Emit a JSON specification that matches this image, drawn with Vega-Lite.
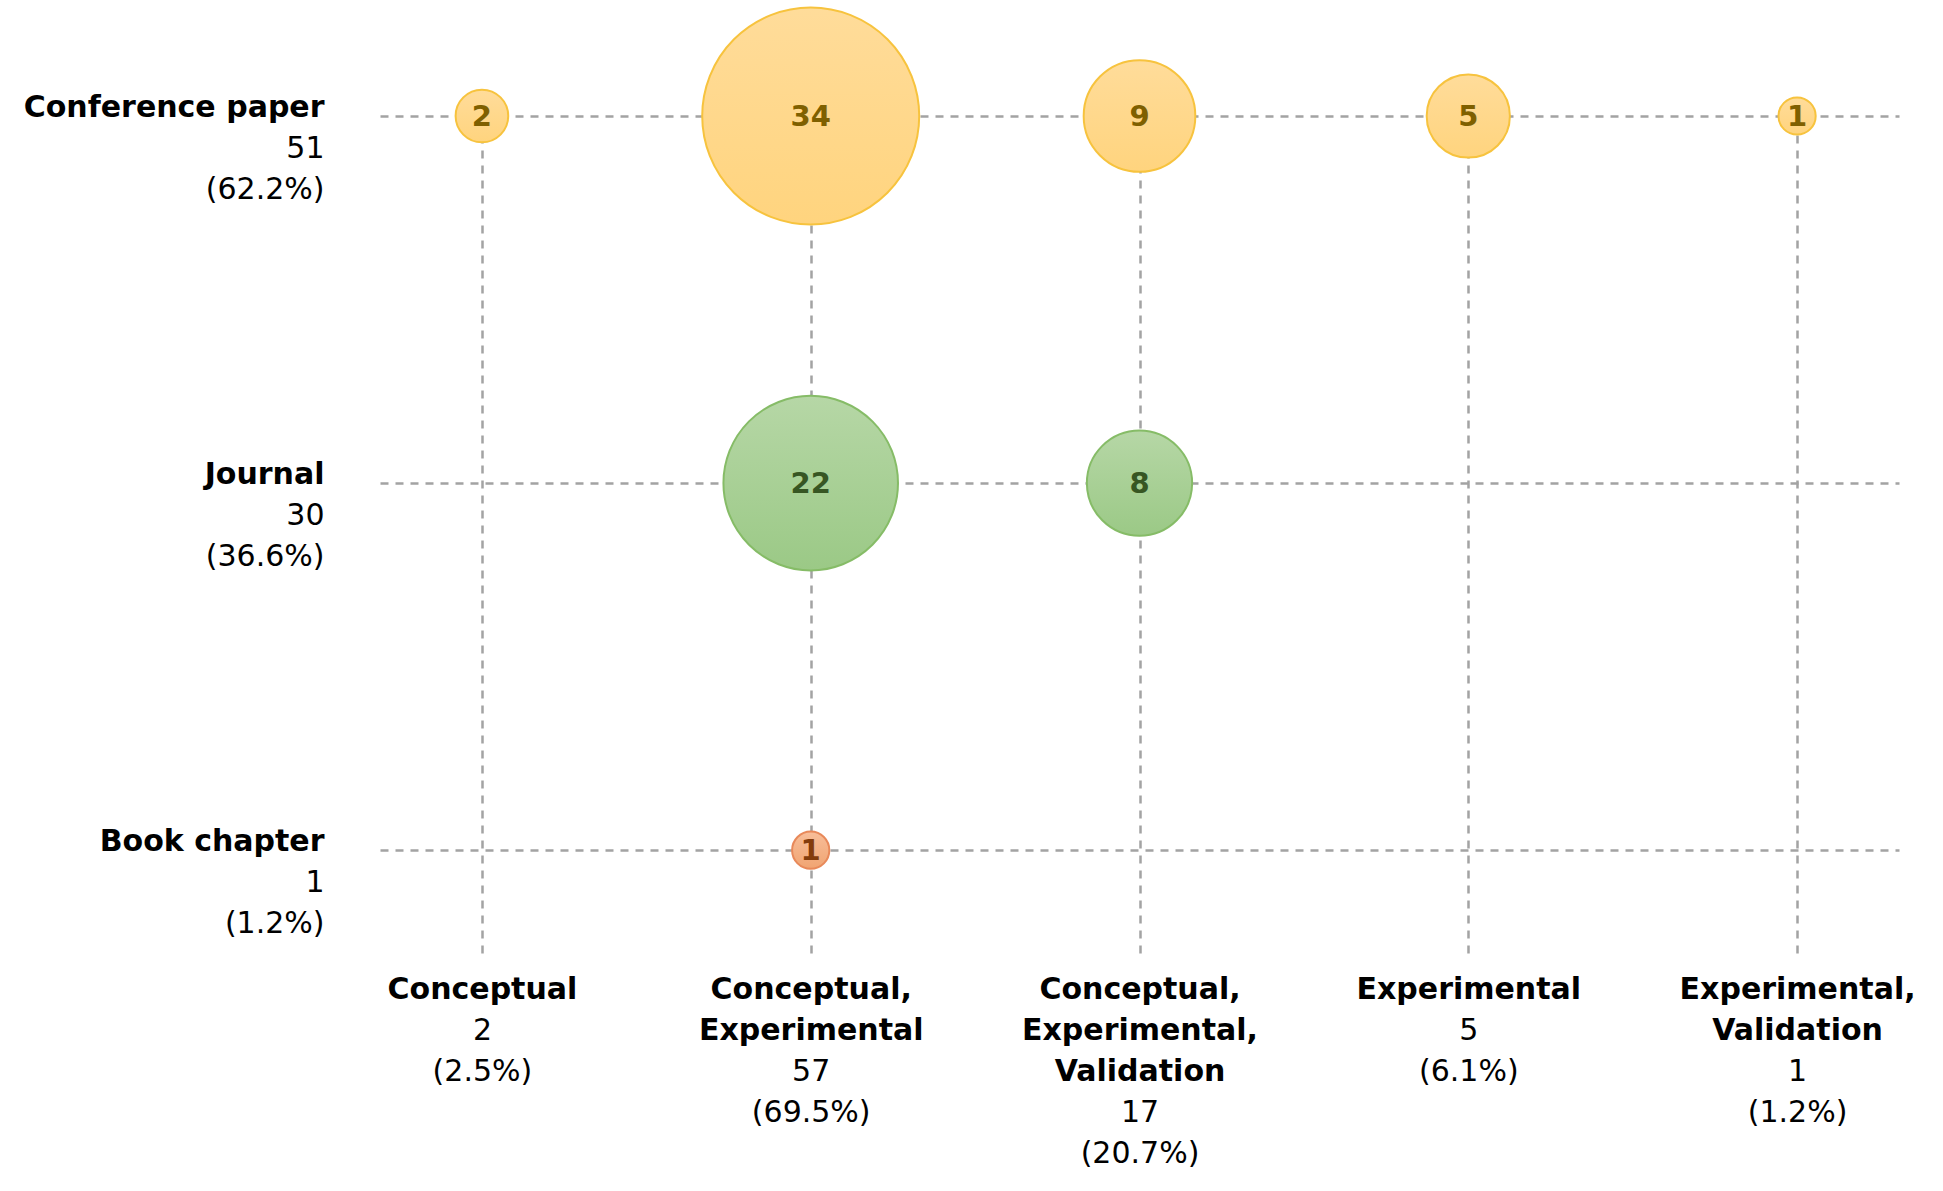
{
  "$schema": "https://vega.github.io/schema/vega-lite/v6.json",
  "autosize": "none",
  "padding": {"left": 380, "top": 116, "right": 44, "bottom": 238},
  "width": 1519,
  "height": 837,
  "background": "white",
  "config": {
    "view": {"stroke": null},
    "font": "DejaVu Sans",
    "axis": {"domain": false, "ticks": false, "labelColor": "black", "labelFont": "DejaVu Sans", "labelFontSize": 30, "labelLineHeight": 41, "labelLimit": 0, "title": null}
  },
  "data": {"values": [
    {"pub": "Conference paper", "method": "Conceptual", "n": 2},
    {"pub": "Conference paper", "method": "Conceptual, Experimental", "n": 34},
    {"pub": "Conference paper", "method": "Conceptual, Experimental, Validation", "n": 9},
    {"pub": "Conference paper", "method": "Experimental", "n": 5},
    {"pub": "Conference paper", "method": "Experimental, Validation", "n": 1},
    {"pub": "Journal", "method": "Conceptual, Experimental", "n": 22},
    {"pub": "Journal", "method": "Conceptual, Experimental, Validation", "n": 8},
    {"pub": "Book chapter", "method": "Conceptual, Experimental", "n": 1}
  ]},
  "encoding": {
    "x": {"field": "method", "type": "nominal", "sort": null,
      "scale": {"type": "point", "padding": 0.31, "domain": ["Conceptual", "Conceptual, Experimental", "Conceptual, Experimental, Validation", "Experimental", "Experimental, Validation"]}},
    "y": {"field": "pub", "type": "nominal", "sort": null,
      "scale": {"type": "point", "padding": 0.14, "align": 0, "domain": ["Conference paper", "Journal", "Book chapter"]}}
  },
  "resolve": {"axis": {"x": "independent", "y": "independent"}},
  "layer": [
    {
      "transform": [{"filter": "datum.pub === 'Conference paper'"}],
      "mark": {"type": "circle", "opacity": 1, "strokeWidth": 2, "stroke": "#F7C33E",
        "fill": {"gradient": "linear", "x1": 0, "y1": 0, "x2": 0, "y2": 1, "stops": [{"offset": 0, "color": "#FFDC9A"}, {"offset": 1, "color": "#FFD47E"}]}},
      "encoding": {
        "x": {"field": "method", "type": "nominal", "sort": null,
          "axis": {"orient": "bottom", "grid": true, "gridColor": "#A3A3A3", "gridDash": [8, 7], "gridWidth": 2.5, "labelAngle": 0, "labelFontWeight": "bold", "labelBaseline": "alphabetic", "labelPadding": 45,
            "labelExpr": "{'Conceptual':['Conceptual'],'Conceptual, Experimental':['Conceptual,','Experimental'],'Conceptual, Experimental, Validation':['Conceptual,','Experimental,','Validation'],'Experimental':['Experimental'],'Experimental, Validation':['Experimental,','Validation']}[datum.value]"}},
        "y": {"field": "pub", "type": "nominal", "sort": null,
          "axis": {"orient": "left", "grid": true, "gridColor": "#A3A3A3", "gridDash": [8, 7], "gridWidth": 2.5, "labelFontWeight": "bold", "labelBaseline": "alphabetic", "labelPadding": 56}},
        "size": {"field": "n", "type": "quantitative", "scale": {"type": "linear", "domain": [0, 34], "range": [0, 47089]}, "legend": null}
      }
    },
    {
      "transform": [{"filter": "datum.pub === 'Journal'"}],
      "mark": {"type": "circle", "opacity": 1, "strokeWidth": 2, "stroke": "#86BC67",
        "fill": {"gradient": "linear", "x1": 0, "y1": 0, "x2": 0, "y2": 1, "stops": [{"offset": 0, "color": "#B6D7A6"}, {"offset": 1, "color": "#9BC986"}]}},
      "encoding": {
        "x": {"field": "method", "type": "nominal", "sort": null, "axis": null},
        "y": {"field": "pub", "type": "nominal", "sort": null, "axis": null},
        "size": {"field": "n", "type": "quantitative", "legend": null}
      }
    },
    {
      "transform": [{"filter": "datum.pub === 'Book chapter'"}],
      "mark": {"type": "circle", "opacity": 1, "strokeWidth": 2, "stroke": "#E8895A",
        "fill": {"gradient": "linear", "x1": 0, "y1": 0, "x2": 0, "y2": 1, "stops": [{"offset": 0, "color": "#F8BE99"}, {"offset": 1, "color": "#F0A472"}]}},
      "encoding": {
        "x": {"field": "method", "type": "nominal", "sort": null, "axis": null},
        "y": {"field": "pub", "type": "nominal", "sort": null, "axis": null},
        "size": {"field": "n", "type": "quantitative", "legend": null}
      }
    },
    {
      "mark": {"type": "text", "fontWeight": "bold", "fontSize": 29, "baseline": "middle", "align": "center", "dy": 1},
      "encoding": {
        "x": {"field": "method", "type": "nominal", "sort": null,
          "axis": {"orient": "bottom", "grid": false, "labelAngle": 0, "labelFontWeight": "normal", "labelBaseline": "alphabetic",
            "labelPadding": {"condition": [{"test": "datum.value === 'Conceptual, Experimental, Validation'", "value": 168}, {"test": "indexof(datum.value, ',') >= 0", "value": 127}], "value": 86},
            "labelExpr": "{'Conceptual':['2','(2.5%)'],'Conceptual, Experimental':['57','(69.5%)'],'Conceptual, Experimental, Validation':['17','(20.7%)'],'Experimental':['5','(6.1%)'],'Experimental, Validation':['1','(1.2%)']}[datum.value]"}},
        "y": {"field": "pub", "type": "nominal", "sort": null,
          "axis": {"orient": "left", "grid": false, "labelFontWeight": "normal", "labelBaseline": "alphabetic", "labelPadding": 56, "labelOffset": 41,
            "labelExpr": "{'Conference paper':['51','(62.2%)'],'Journal':['30','(36.6%)'],'Book chapter':['1','(1.2%)']}[datum.value]"}},
        "text": {"field": "n", "type": "quantitative"},
        "color": {"field": "pub", "type": "nominal", "scale": {"domain": ["Conference paper", "Journal", "Book chapter"], "range": ["#7F6000", "#375623", "#843C0C"]}, "legend": null}
      }
    }
  ]
}
